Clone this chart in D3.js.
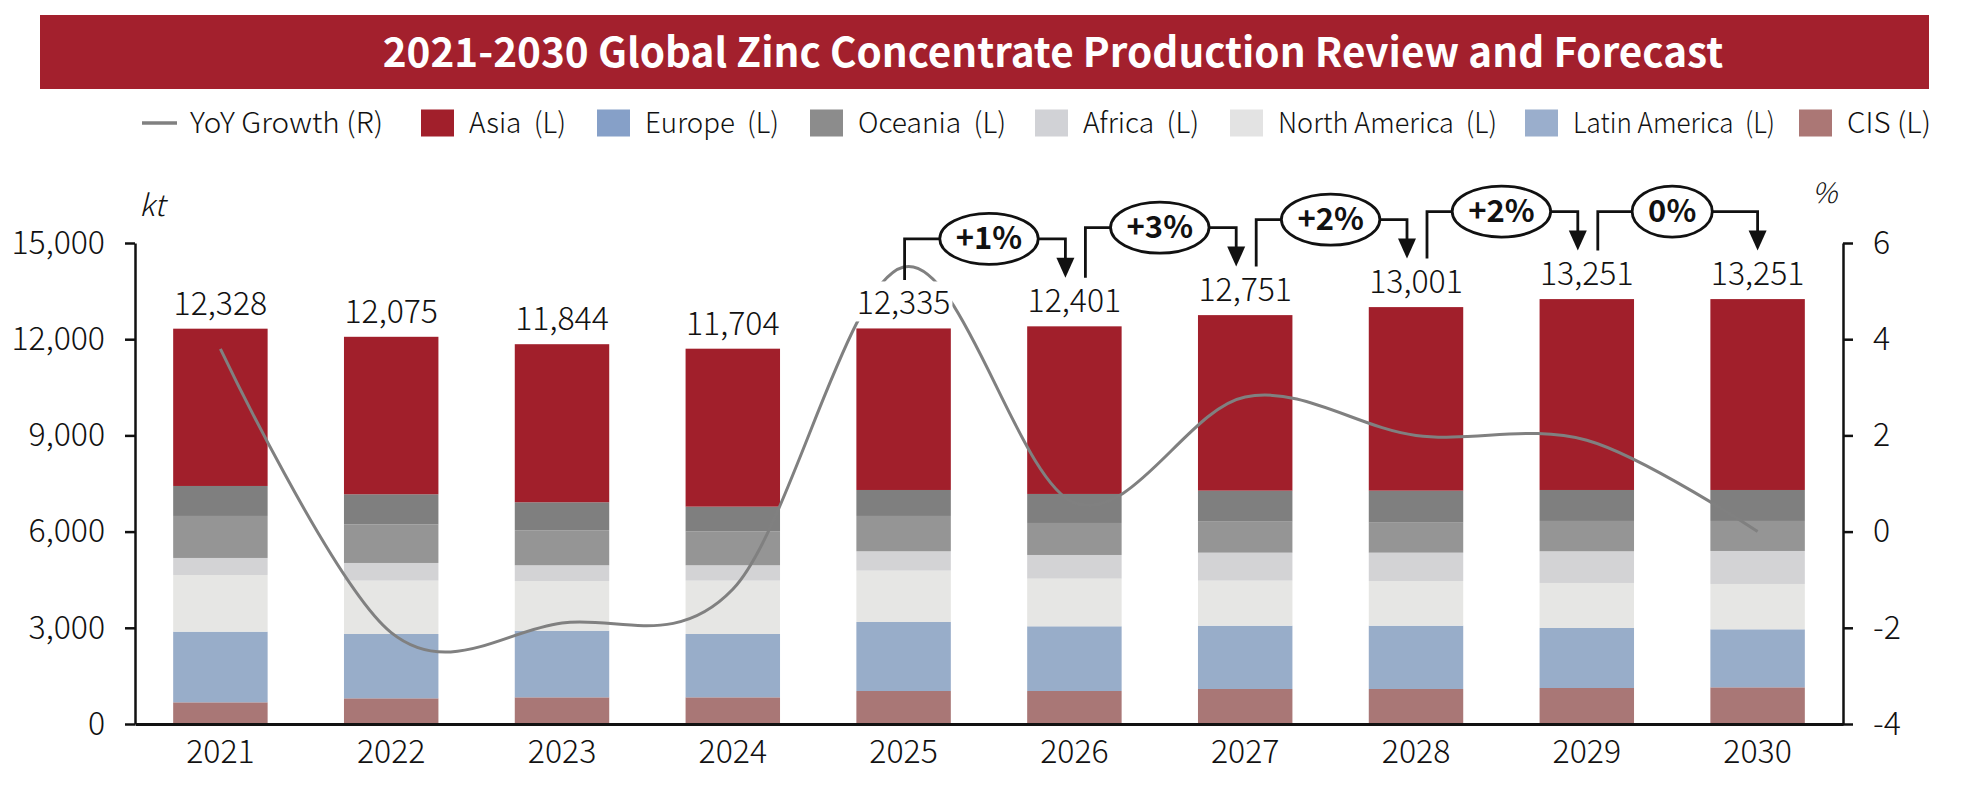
<!DOCTYPE html>
<html>
<head>
<meta charset="utf-8">
<script src="https://cdn.jsdelivr.net/npm/d3@7"></script>
<style>
  body { margin: 0; background: #fff; }
  text { font-family: "Noto Sans CJK SC", "Noto Sans", sans-serif; }
</style>
</head>
<body>
<svg id="chart" width="1974" height="797"></svg>
<script>
// ---- data (kt) ----
var years = ["2021", "2022", "2023", "2024", "2025", "2026", "2027", "2028", "2029", "2030"];
var asia         = [4905, 4911, 4929, 4926, 5037, 5227, 5474, 5724, 5953, 5953];
var europe       = [935, 936, 874, 768, 810, 905, 967, 998, 966, 966];
var oceania      = [1310, 1206, 1091, 1060, 1102, 998, 967, 936, 946, 936];
var africa       = [531, 552, 490, 480, 604, 739, 873, 883, 988, 1029];
var northAmerica = [1767, 1663, 1550, 1663, 1601, 1485, 1404, 1394, 1404, 1414];
var latinAmerica = [2204, 2006, 2078, 1975, 2152, 2018, 1974, 1974, 1871, 1809];
var cis          = [676, 801, 832, 832, 1029, 1029, 1092, 1092, 1123, 1144];
var totals       = [12328, 12075, 11844, 11704, 12335, 12401, 12751, 13001, 13251, 13251];
var yoy          = [3.8, -2.1, -1.9, -1.2, 5.5, 0.6, 2.8, 2.0, 1.9, 0.0]; // %

var leftTicks  = [0, 3000, 6000, 9000, 12000, 15000];
var rightTicks = [-4, -2, 0, 2, 4, 6];

// growth call-outs between consecutive years
var tagFrom = ["2025", "2026", "2027", "2028", "2029"];
var tagText = ["+1%", "+3%", "+2%", "+2%", "0%"];

var stackKeys = ["CIS", "Latin America", "North America", "Africa", "Oceania", "Europe", "Asia"];
var seriesValues = {
  "Asia": asia, "Europe": europe, "Oceania": oceania, "Africa": africa,
  "North America": northAmerica, "Latin America": latinAmerica, "CIS": cis
};

// colours as they appear in the bars / in the legend
var barColor = {
  "Asia": "#a11f2b", "Europe": "#7f7f7f", "Oceania": "#959595", "Africa": "#d3d3d5",
  "North America": "#e6e6e4", "Latin America": "#98adc9", "CIS": "#a97776"
};
var legendColor = {
  "Asia": "#a11f2b", "Europe": "#86a0c8", "Oceania": "#8c8c8c", "Africa": "#d1d2d6",
  "North America": "#e3e3e3", "Latin America": "#9aaecc", "CIS": "#ab7775"
};

var dims = { width: 1974, height: 797, left: 135, right: 1843, top: 243, bottom: 724 };

var svg = d3.select("#chart");

// ---- title banner ----
svg.append("rect")
  .attr("x", 40).attr("y", 15)
  .attr("width", 1889).attr("height", 74)
  .attr("fill", "#a3202d");

var title = svg.append("text")
  .text("2021-2030 Global Zinc Concentrate Production Review and Forecast")
  .attr("x", 1053).attr("y", 67)
  .attr("text-anchor", "middle")
  .attr("fill", "#fff")
  .style("font-weight", "700")
  .style("font-size", "44px");
var tw = title.node().getComputedTextLength();
title.style("font-size", (44 * 1341 / tw) + "px");

// ---- legend ----
// swatch x and text width taken from the reference layout
var legendItems = [
  { key: "YoY", label: "YoY Growth (R)", line: true, x: 142, w: 193 },
  { key: "Asia", label: "Asia  (L)", x: 421, w: 97 },
  { key: "Europe", label: "Europe  (L)", x: 597, w: 134 },
  { key: "Oceania", label: "Oceania  (L)", x: 810, w: 148 },
  { key: "Africa", label: "Africa  (L)", x: 1035, w: 116 },
  { key: "North America", label: "North America  (L)", x: 1230, w: 219 },
  { key: "Latin America", label: "Latin America  (L)", x: 1525, w: 202 },
  { key: "CIS", label: "CIS (L)", x: 1799, w: 84 }
];
var ly = 123;
legendItems.forEach(function(it) {
  if (it.line) {
    svg.append("line")
      .attr("x1", it.x).attr("x2", it.x + 35)
      .attr("y1", ly).attr("y2", ly)
      .attr("stroke", "#808080").attr("stroke-width", 3.5);
  } else {
    svg.append("rect")
      .attr("x", it.x).attr("y", ly - 13.5)
      .attr("width", 33).attr("height", 27)
      .attr("fill", legendColor[it.key]);
  }
  svg.append("text")
    .text(it.label)
    .attr("x", it.x + 48).attr("y", ly + 10)
    .attr("fill", "#111")
    .attr("textLength", it.w)
    .attr("lengthAdjust", "spacingAndGlyphs")
    .style("white-space", "pre")
    .style("font-weight", "300")
    .style("font-size", "28.5px");
});

// ---- scales ----
var x = d3.scaleBand()
  .domain(years)
  .range([dims.left, dims.right])
  .paddingInner(0.447)
  .paddingOuter(0.2235);

var yL = d3.scaleLinear().domain([0, 15000]).range([dims.bottom, dims.top]);
var yR = d3.scaleLinear().domain([-4, 6]).range([dims.bottom, dims.top]);

function cx(i) { return x(years[i]) + x.bandwidth() / 2; }

// ---- stacked bars ----
var rows = years.map(function(yr, i) {
  var r = { year: yr };
  stackKeys.forEach(function(k) { r[k] = seriesValues[k][i]; });
  return r;
});
var stacked = d3.stack().keys(stackKeys)(rows);

svg.append("g").selectAll("g")
  .data(stacked)
  .join("g")
  .attr("fill", function(s) { return barColor[s.key]; })
  .selectAll("rect")
  .data(function(s) { return s; })
  .join("rect")
  .attr("x", function(d) { return x(d.data.year); })
  .attr("y", function(d) { return yL(d[1]); })
  .attr("width", x.bandwidth())
  .attr("height", function(d) { return yL(d[0]) - yL(d[1]); });

// ---- axes ----
var axisL = svg.append("g")
  .attr("transform", "translate(" + dims.left + ",0)")
  .call(d3.axisLeft(yL).tickValues(leftTicks).tickFormat(d3.format(",")).tickSize(10).tickSizeOuter(0).tickPadding(20));
var axisR = svg.append("g")
  .attr("transform", "translate(" + dims.right + ",0)")
  .call(d3.axisRight(yR).tickValues(rightTicks).tickFormat(function(d) { return String(d); }).tickSize(10).tickSizeOuter(0).tickPadding(20));
var axisB = svg.append("g")
  .attr("transform", "translate(0," + dims.bottom + ")")
  .call(d3.axisBottom(x).tickSize(0).tickSizeOuter(0).tickPadding(16));

[axisL, axisR].forEach(function(a) {
  a.selectAll("path, line").attr("stroke", "#111").attr("stroke-width", 2.5);
});
axisB.select("path").attr("stroke", "#111").attr("stroke-width", 3);
[axisL, axisR, axisB].forEach(function(a) {
  a.selectAll("text").attr("fill", "#111").style("font-weight", "300").style("font-size", "32px");
});

svg.append("text").text("kt")
  .attr("x", 139).attr("y", 216)
  .style("font-style", "italic").style("font-weight", "300").style("font-size", "30px").attr("fill", "#111");
svg.append("text").text("%")
  .attr("x", 1812).attr("y", 203)
  .style("font-style", "italic").style("font-weight", "300").style("font-size", "28px").attr("fill", "#111");

// ---- YoY line (right axis) ----
var line = d3.line()
  .x(function(d, i) { return cx(i); })
  .y(function(d) { return yR(d); })
  .curve(d3.curveCardinal.tension(0));

svg.append("path")
  .datum(yoy)
  .attr("d", line)
  .attr("fill", "none")
  .attr("stroke", "#808080")
  .attr("stroke-width", 3);

// ---- total labels (white box behind hides the line) ----
totals.forEach(function(v, i) {
  var g = svg.append("g");
  var t = g.append("text")
    .text(d3.format(",")(v))
    .attr("x", cx(i))
    .attr("y", yL(v) - 14)
    .attr("text-anchor", "middle")
    .attr("fill", "#111")
    .style("font-weight", "300")
    .style("font-size", "32px");
  var bb = t.node().getBBox();
  g.insert("rect", "text")
    .attr("x", bb.x - 2).attr("y", bb.y + 4)
    .attr("width", bb.width + 4).attr("height", bb.height - 6)
    .attr("fill", "#fff");
});

// ---- growth call-outs ----
tagFrom.forEach(function(yr, k) {
  var i0 = years.indexOf(yr), i1 = i0 + 1;
  var last = k === tagFrom.length - 1;
  var xs = cx(i0) + (k === 0 ? 1 : 11);
  var xe = cx(i1) - (last ? 0 : 9);
  var top0 = yL(totals[i0]) - 14 - 22.5;
  var top1 = yL(totals[i1]) - 14 - 22.5;
  var sb = top0 - 12, tip = top1 - 12;
  var hy = Math.min(sb, tip) - 39;

  svg.append("path")
    .attr("d", "M" + xs + "," + sb + "V" + hy + "H" + xe + "V" + (tip - 19))
    .attr("fill", "none")
    .attr("stroke", "#111")
    .attr("stroke-width", 2.8);
  svg.append("path")
    .attr("d", "M" + (xe - 9) + "," + (tip - 20) + "L" + (xe + 9) + "," + (tip - 20) + "L" + xe + "," + tip + "Z")
    .attr("fill", "#111");

  var mid = (cx(i0) + cx(i1)) / 2;
  var e = svg.append("ellipse")
    .attr("cx", mid).attr("cy", hy)
    .attr("ry", 25.5)
    .attr("fill", "#fff")
    .attr("stroke", "#111")
    .attr("stroke-width", 2.8);
  var t = svg.append("text")
    .text(tagText[k])
    .attr("x", mid).attr("y", hy + 10.5)
    .attr("text-anchor", "middle")
    .attr("fill", "#111")
    .style("font-weight", "700")
    .style("font-size", "31px");
  e.attr("rx", t.node().getComputedTextLength() / 2 + 16);
});
</script>
</body>
</html>
